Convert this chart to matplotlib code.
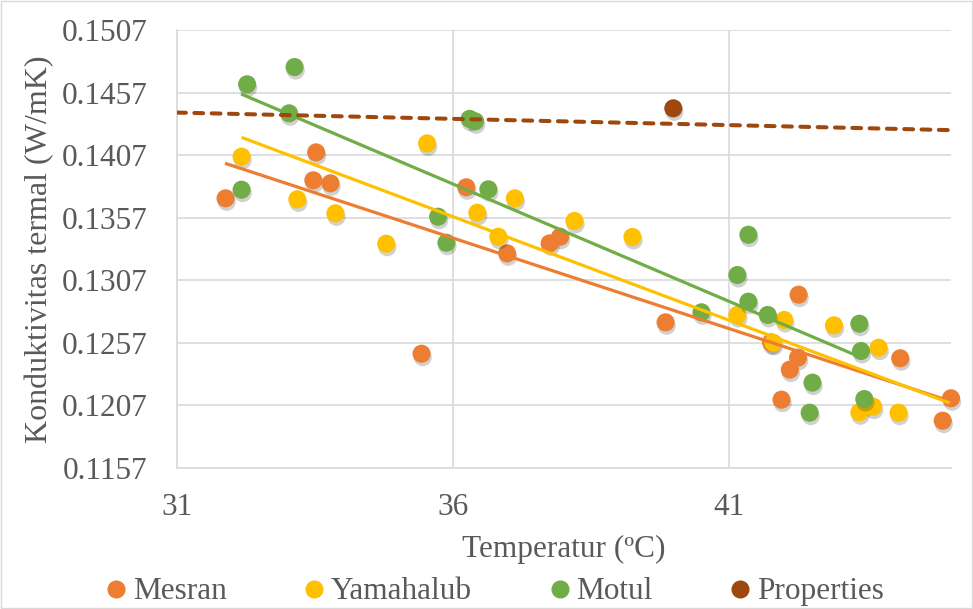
import numpy as np
import matplotlib
matplotlib.use("Agg")
import matplotlib.pyplot as plt
import matplotlib.patheffects as pe
from matplotlib.lines import Line2D

plt.rcParams['font.family'] = ['Liberation Serif', 'DejaVu Serif']

# data
mesran_x = [31.88, 33.47, 33.52, 33.78, 35.43, 36.24, 36.98, 37.75, 37.94, 39.85,
            41.76, 41.95, 42.10, 42.25, 42.26, 44.10, 44.87, 45.02]
mesran_y = [0.13725, 0.13869, 0.14092, 0.13845, 0.12483, 0.13813, 0.13285, 0.13365, 0.13418, 0.12734,
            0.12574, 0.12116, 0.12356, 0.12452, 0.12955, 0.12447, 0.11948, 0.12127]

yamahalub_x = [32.17, 33.18, 33.87, 34.79, 35.53, 36.44, 36.82, 37.12, 38.20, 39.25,
               41.15, 41.80, 42.00, 42.90, 43.36, 43.61, 43.71, 44.07]
yamahalub_y = [0.14058, 0.13717, 0.13605, 0.13362, 0.14164, 0.13610, 0.13418, 0.13725, 0.13544, 0.13416,
               0.12793, 0.12571, 0.12753, 0.12710, 0.12015, 0.12060, 0.12531, 0.12012]

motul_x = [32.17, 32.27, 33.03, 33.13, 35.73, 35.88, 36.30, 36.40, 36.64, 40.50,
           41.15, 41.35, 41.35, 41.70, 42.46, 42.51, 43.36, 43.39, 43.45]
motul_y = [0.13794, 0.14636, 0.14404, 0.14774, 0.13578, 0.13370, 0.14360, 0.14340, 0.13797, 0.12814,
           0.13112, 0.13434, 0.12899, 0.12793, 0.12012, 0.12252, 0.12723, 0.12505, 0.12121]

properties_x = [39.99]
properties_y = [0.14444]

# linear trend lines (start / end)
mesran_trend_x = [31.87, 45.0]
mesran_trend_y = [0.14005, 0.12105]
yamahalub_trend_x = [32.17, 45.0]
yamahalub_trend_y = [0.14212, 0.12089]
motul_trend_x = [32.16, 43.43]
motul_trend_y = [0.14559, 0.12446]
properties_trend_x = [31.0, 45.0]
properties_trend_y = [0.1441, 0.1427]

x_ticks = [31, 36, 41]
y_ticks = [0.1157, 0.1207, 0.1257, 0.1307, 0.1357, 0.1407, 0.1457, 0.1507]

c_mesran = '#ED7D31'
c_yamaha = '#FFC000'
c_motul = '#70AD47'
c_prop = '#9E480E'
c_text = '#595959'

fig = plt.figure(figsize=(9.73, 6.09), dpi=100)
ax = fig.add_axes([177/973, 1 - 468/609, (951 - 177)/973, (468 - 30)/609])

shadow = [pe.SimplePatchShadow(offset=(0.8, -2.5), shadow_rgbFace='black', alpha=0.18), pe.Normal()]

series = [
    (mesran_x, mesran_y, c_mesran, mesran_trend_x, mesran_trend_y),
    (yamahalub_x, yamahalub_y, c_yamaha, yamahalub_trend_x, yamahalub_trend_y),
    (motul_x, motul_y, c_motul, motul_trend_x, motul_trend_y),
]

for xs, ys, col, tx, ty in series:
    sc = ax.scatter(xs, ys, s=170, color=col, zorder=3, clip_on=False, linewidths=0)
    sc.set_path_effects(shadow)

for xs, ys, col, tx, ty in series:
    ax.plot(tx, ty, color=col, lw=2.3, zorder=4, solid_capstyle='butt')

sc = ax.scatter(properties_x, properties_y, s=170, color=c_prop, zorder=3, linewidths=0)
sc.set_path_effects(shadow)
ax.plot(properties_trend_x, properties_trend_y, color=c_prop, lw=2.9,
        linestyle=(0, (2.2, 2.1)), dash_capstyle='round', zorder=4)

ax.set_xlim(31, 45.02)
ax.set_ylim(0.1157, 0.1507)
ax.set_xticks(x_ticks)
ax.set_yticks(y_ticks)
ax.set_yticklabels([f'{v:.4f}' for v in y_ticks])
ax.grid(True, color='#D9D9D9', lw=1.2)
ax.set_axisbelow(True)
for s in ['top', 'right']:
    ax.spines[s].set_visible(False)
for s in ['left', 'bottom']:
    ax.spines[s].set_color('#D9D9D9')
    ax.spines[s].set_linewidth(1.2)
ax.tick_params(length=0, labelsize=22.5, labelcolor=c_text)
ax.tick_params(axis='y', pad=21)
ax.tick_params(axis='x', pad=18)

ax.set_xlabel('Temperatur (ºC)', fontsize=22.5, color=c_text, labelpad=9)
ax.set_ylabel('Konduktivitas termal (W/mK)', fontsize=23, color=c_text, labelpad=6)

handles = [Line2D([], [], marker='o', ls='none', ms=12, color=c) for c in [c_mesran, c_yamaha, c_motul, c_prop]]
fig.legend(handles, ['Mesran', 'Yamahalub', 'Motul', 'Properties'], loc='center',
           bbox_to_anchor=(0.5075, 0.028), ncol=4, frameon=False, fontsize=22.5,
           handletextpad=0.14, columnspacing=2.4, labelcolor=c_text, handlelength=0.8)

fig.patches.append(plt.Rectangle((0.001, 0.001), 0.998, 0.998, transform=fig.transFigure,
                                 fill=False, edgecolor='#D9D9D9', lw=1))

fig.savefig('out.png', dpi=100)
